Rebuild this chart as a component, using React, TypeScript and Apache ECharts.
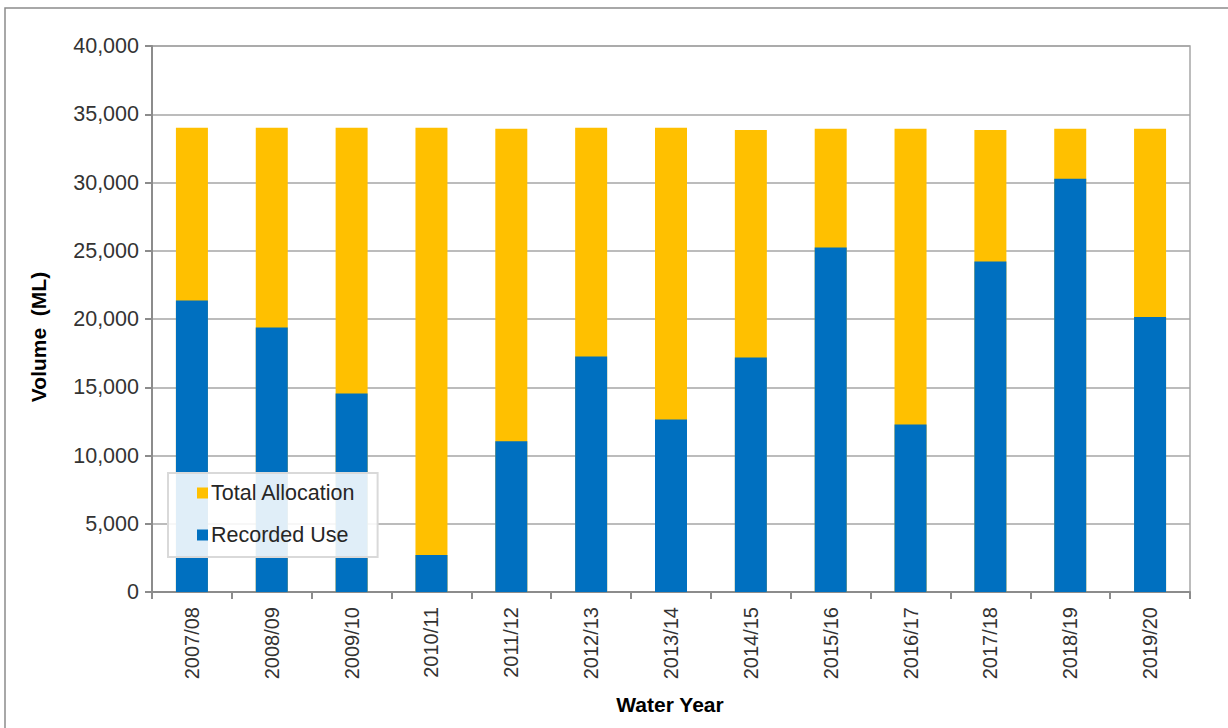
import React, { useEffect, useRef } from "react";
import * as echarts from "echarts";

const categories = [
  "2007/08", "2008/09", "2009/10", "2010/11", "2011/12", "2012/13", "2013/14",
  "2014/15", "2015/16", "2016/17", "2017/18", "2018/19", "2019/20",
];
const totalAllocation = [
  34020, 34020, 34020, 34020, 33940, 34020, 34020,
  33850, 33940, 33940, 33850, 33940, 33940,
];
const recordedUse = [
  21350, 19380, 14550, 2710, 11050, 17250, 12640,
  17180, 25230, 12280, 24210, 30280, 20150,
];
const yTicks = { min: 0, max: 40000, interval: 5000 };

export default function App() {
  const ref = useRef<HTMLDivElement>(null);
  useEffect(() => {
    if (!ref.current) return;
    const chart = echarts.init(ref.current, null, { renderer: "svg" });
    const font = "Liberation Sans, Arial, sans-serif";
    chart.setOption({
      animation: false,
      backgroundColor: "#ffffff",
      grid: {
        left: 152,
        right: 38,
        top: 46,
        bottom: 136,
        show: true,
        borderColor: "#a6a6a6",
        borderWidth: 1.5,
      },
      legend: {
        orient: "vertical",
        left: 168,
        top: 473,
        data: ["Total Allocation", "Recorded Use"],
        backgroundColor: "rgba(255,255,255,0.88)",
        borderColor: "#d9d9d9",
        borderWidth: 2,
        padding: [9, 22, 11, 29],
        itemWidth: 11,
        itemHeight: 11,
        itemGap: 20,
        icon: "rect",
        textStyle: { fontFamily: font, fontSize: 21.5, color: "#262626", lineHeight: 20, padding: [0, 0, 0, -2] },
      },
      xAxis: {
        type: "category",
        data: categories,
        axisLine: { lineStyle: { color: "#8c8c8c", width: 2 } },
        axisTick: { show: true, length: 7, alignWithLabel: false, lineStyle: { color: "#8c8c8c", width: 2 } },
        axisLabel: {
          rotate: 90,
          fontFamily: font,
          fontSize: 20,
          color: "#333333",
          margin: 15,
          interval: 0,
        },
        splitLine: { show: false },
      },
      yAxis: {
        type: "value",
        min: yTicks.min,
        max: yTicks.max,
        interval: yTicks.interval,
        axisLine: { show: true, lineStyle: { color: "#8c8c8c", width: 2 } },
        axisTick: { show: true, length: 7, lineStyle: { color: "#8c8c8c", width: 2 } },
        axisLabel: {
          fontFamily: font,
          fontSize: 21.5,
          color: "#333333",
          margin: 13,
          formatter: (v: number) => v.toLocaleString("en-US"),
        },
        splitLine: { show: true, lineStyle: { color: "#a6a6a6", width: 1.5 } },
      },
      series: [
        {
          name: "Total Allocation",
          type: "bar",
          data: totalAllocation,
          barWidth: 32,
          barGap: "-100%",
          itemStyle: { color: "#FFC000" },
        },
        {
          name: "Recorded Use",
          type: "bar",
          data: recordedUse,
          barWidth: 32,
          barGap: "-100%",
          itemStyle: { color: "#0070C0" },
        },
      ],
      graphic: [
        {
          type: "rect",
          shape: { x: 5, y: 8, width: 1400, height: 900 },
          style: { fill: "none", stroke: "#8c8c8c", lineWidth: 1.5 },
          silent: true,
          z: -10,
        },
        {
          type: "text",
          x: 38,
          y: 337,
          rotation: Math.PI / 2,
          style: {
            text: "Volume  (ML)",
            font: `bold 21px ${font}`,
            fill: "#000000",
            align: "center",
            verticalAlign: "middle",
          },
        },
        {
          type: "text",
          x: 670,
          y: 704,
          style: {
            text: "Water Year",
            font: `bold 21px ${font}`,
            fill: "#000000",
            align: "center",
            verticalAlign: "middle",
          },
        },
      ],
    });
    return () => chart.dispose();
  }, []);
  return (
    <div
      ref={ref}
      style={{ position: "fixed", left: 0, top: 0, width: 1228, height: 728 }}
    />
  );
}
